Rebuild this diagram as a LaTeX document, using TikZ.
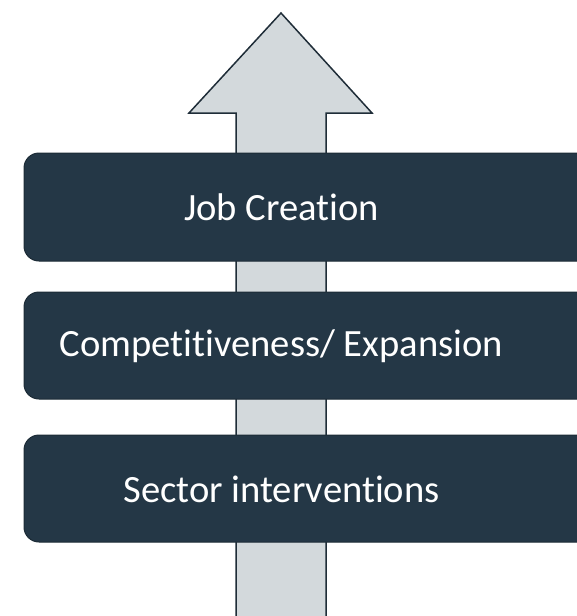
\documentclass[tikz,border=0pt]{standalone}
\usepackage{fontspec}
\setmainfont[Ligatures={NoCommon}]{Carlito}
\definecolor{boxfill}{HTML}{243746}
\definecolor{boxline}{HTML}{1C2B36}
\definecolor{arrowfill}{HTML}{D3D9DC}
\definecolor{arrowline}{HTML}{1F2D38}
\begin{document}
\begin{tikzpicture}[x=1pt,y=-1pt,
  levelbox/.style={fill=boxfill,draw=boxline,line width=1pt,rounded corners=15pt},
  leveltext/.style={text=white,font=\fontsize{38.6}{46}\selectfont,inner sep=0pt}]
\useasboundingbox (0,0) rectangle (577,616);
\clip (0,0) rectangle (577,616);
\draw[fill=arrowfill,draw=arrowline,line width=1.5pt]
  (236,630) -- (236,113) -- (189,113) -- (281,13) -- (372,113) -- (326,113) -- (326,630);
\draw[levelbox] (24,153) rectangle (620,261);
\draw[levelbox] (24,292) rectangle (620,399);
\draw[levelbox] (24,435) rectangle (620,542);
\node[leveltext] (job) at (281.5,207) {Job Creation};
\node[leveltext] (comp) at (281.5,346) {Competitiveness/ Expansion};
\node[leveltext] (sect) at (281.5,489) {Sector interventions};
\end{tikzpicture}
\end{document}
